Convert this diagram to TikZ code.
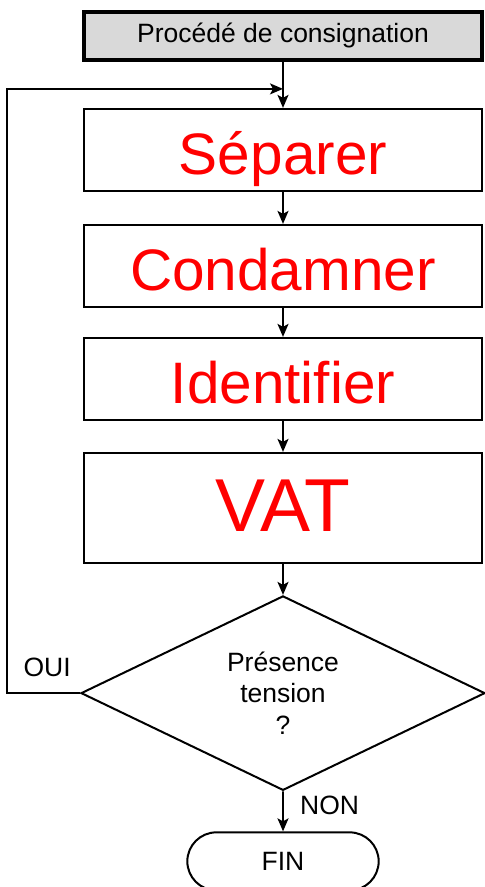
\documentclass[tikz,border=0pt]{standalone}
\usepackage{fontspec}
\setmainfont{Liberation Sans}
\usetikzlibrary{arrows.meta, positioning, shapes.geometric, shapes.misc}
\definecolor{headgray}{RGB}{217,217,217}
\tikzstyle{block} = [draw, rectangle, line width=2pt, inner sep=2pt]
\tikzstyle{title} = [block, line width=3.8pt, fill=headgray, minimum width=398pt, minimum height=48pt, font=\fontsize{26.5}{30}\selectfont]
\tikzstyle{action} = [block, minimum width=398pt, minimum height=82pt, text=red, text height=49pt, text depth=0pt, font=\fontsize{58.5}{64}\selectfont]
\tikzstyle{decision} = [draw, diamond, line width=2pt, inner sep=0pt, minimum width=404pt, minimum height=194pt, align=center, font=\fontsize{26.5}{31.5}\selectfont]
\tikzstyle{terminal} = [draw, rounded rectangle, line width=2pt, minimum width=198pt, minimum height=58pt, font=\fontsize{26.5}{30}\selectfont]
\tikzstyle{tag} = [font=\fontsize{26.5}{30}\selectfont]
\tikzstyle{flow} = [-{Stealth[length=13pt, width=11pt, inset=3pt]}, line width=1.8pt]

\begin{document}
\begin{tikzpicture}[x=1pt, y=1pt]
    \useasboundingbox (0,0) rectangle (485,887);

    \node (header) [title] at (283,851) {Procédé de consignation};
    \node (separer) [action, below=46pt of header] {Séparer};
    \node (condamner) [action, below=32pt of separer] {Condamner};
    \node (identifier) [action, below=29pt of condamner] {Identifier};
    \node (vat) [action, minimum height=110pt, font=\fontsize{75}{80}\selectfont, text height=48pt, below=31pt of identifier] {VAT};
    \node (test) [decision, below=31pt of vat] {Présence\\tension\\?};
    \node (fin) [terminal, below=40pt of test] {FIN};

    \node (join) [coordinate, below=27pt of header] {};
    \node (corner) [coordinate, left=73pt of test.west] {};

    % Arrows.
    \foreach \a/\b in {header/separer, separer/condamner, condamner/identifier, identifier/vat, vat/test} {%
        \draw [flow] (\a) -- (\b);
    }
    \draw [flow] (test) -- node [tag, right=13pt, pos=0.34] {NON} (fin);
    \draw [flow] (test.west) -- node [tag, above=12pt, pos=0.45] {OUI} (corner) |- (join);
\end{tikzpicture}
\end{document}
